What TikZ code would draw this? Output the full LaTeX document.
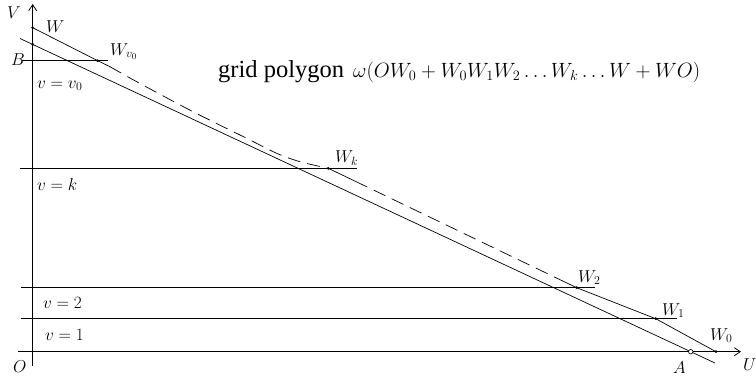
\documentclass[tikz,border=0pt]{standalone}
\usepackage{fontspec}
\setmainfont{Liberation Serif}
\usepackage{graphicx}
\usetikzlibrary{arrows.meta,calc}
\begin{document}
\begin{tikzpicture}[x=1bp,y=-1bp,
  axisline/.style={line width=0.8bp,-{Straight Barb[length=6bp,width=8bp]}},
  gridline/.style={line width=0.8bp},
  polyline/.style={line width=0.7bp},
  dashline/.style={line width=0.7bp,dash pattern=on 13bp off 7bp},
  pt/.style={circle,fill,inner sep=0pt,minimum size=3bp},
  lbl/.style={inner sep=0pt,anchor=base west,font=\fontsize{17bp}{20bp}\selectfont},
  vlbl/.style={inner sep=0pt,anchor=base west,font=\fontsize{17bp}{20bp}\selectfont},
]
\useasboundingbox (0,0) rectangle (756,381);
% axes
\coordinate (Vb) at (32.7,366);
\coordinate (Vt) at (32.7,4);
\coordinate (Ul) at (18,351.7);
\coordinate (Ur) at (741,351.7);
\draw[axisline] (Vb) -- (Vt);
\draw[axisline] (Ul) -- (Ur);
% horizontal grid lines
\coordinate (b1) at (22,60.7);  \coordinate (b2) at (108,60.7);
\coordinate (k1) at (20,168.3); \coordinate (k2) at (357,168.3);
\coordinate (t1) at (21,287.7); \coordinate (t2) at (595,287.7);
\coordinate (o1) at (21,318.7); \coordinate (o2) at (677,318.7);
\draw[gridline] (b1) -- (b2);
\draw[gridline] (k1) -- (k2);
\draw[gridline] (t1) -- (t2);
\draw[gridline] (o1) -- (o2);
% points
\node[pt] (W) at (32.7,27.7) {};
\node[pt] (B) at (32.7,44.3) {};
\node[pt] (Wv) at (97.7,60.7) {};
\node[pt] (Wk) at (328.3,168.3) {};
\node[pt] (W2) at (576.7,287.7) {};
\node[pt] (W1) at (655.7,318.7) {};
\node[pt] (W0) at (716,351.7) {};
% lower line AB
\coordinate (L1) at (20,38.5);
\coordinate (L2) at (715,363);
\draw[polyline] (L1) -- (L2);
\node[circle,draw,fill=white,inner sep=0pt,minimum size=4.5bp,line width=0.6bp] (A) at (690.7,351.7) {};
% upper polygon
\coordinate (c1) at (110,66.7);
\coordinate (c2) at (136.7,81.7);
\coordinate (c3) at (193,111.7);
\coordinate (c4) at (246.7,138.3);
\coordinate (c5) at (276.7,153.3);
\coordinate (c6) at (300,161.7);
\draw[polyline] (W.center) -- (Wv.center) -- (c1);
\draw[dashline] plot[smooth,tension=0.5] coordinates {(c1) (c2) (c3) (c4) (c5) (c6) (Wk.center)};
\coordinate (d1) at ($(Wk.center)!0.11!(W2.center)$);
\coordinate (d2) at ($(Wk.center)!0.91!(W2.center)$);
\draw[polyline] (Wk.center) -- (d1);
\draw[dashline] (d1) -- (d2);
\draw[polyline] (d2) -- (W2.center) -- (W1.center) -- (W0.center);
% labels
\node[lbl] (lV) at (7,18) {$V$};
\node[lbl] (lW) at (46,32) {$W$};
\node[lbl] (lB) at (11,65) {$B$};
\node[lbl] (lWv) at (110,55) {$W_{v_0}$};
\node[lbl] (lWk) at (335,162.7) {$W_k$};
\node[lbl] (lW2) at (578,282) {$W_2$};
\node[lbl] (lW1) at (662,315) {$W_1$};
\node[lbl] (lW0) at (710,340) {$W_0$};
\node[lbl] (lA) at (673,373) {$A$};
\node[lbl] (lU) at (743,370) {$U$};
\node[lbl] (lO) at (13,372) {$O$};
\node[vlbl] (v0) at (37,88) {$v=v_0$};
\node[vlbl] (vk) at (37,190) {$v=k$};
\node[vlbl] (v2) at (43,308) {$v=2$};
\node[vlbl] (v1) at (45,340) {$v=1$};
\node[inner sep=0pt,anchor=base west,font=\fontsize{24.5bp}{28bp}\selectfont\rmfamily] (G) at (218,77) {grid polygon};
\node[inner sep=0pt,anchor=base west,font=\fontsize{19.5bp}{24bp}\selectfont] (F) at (353,77) {$\omega(OW_0+W_0W_1W_2\ldots W_k\ldots W+WO)$};
\end{tikzpicture}
\end{document}
